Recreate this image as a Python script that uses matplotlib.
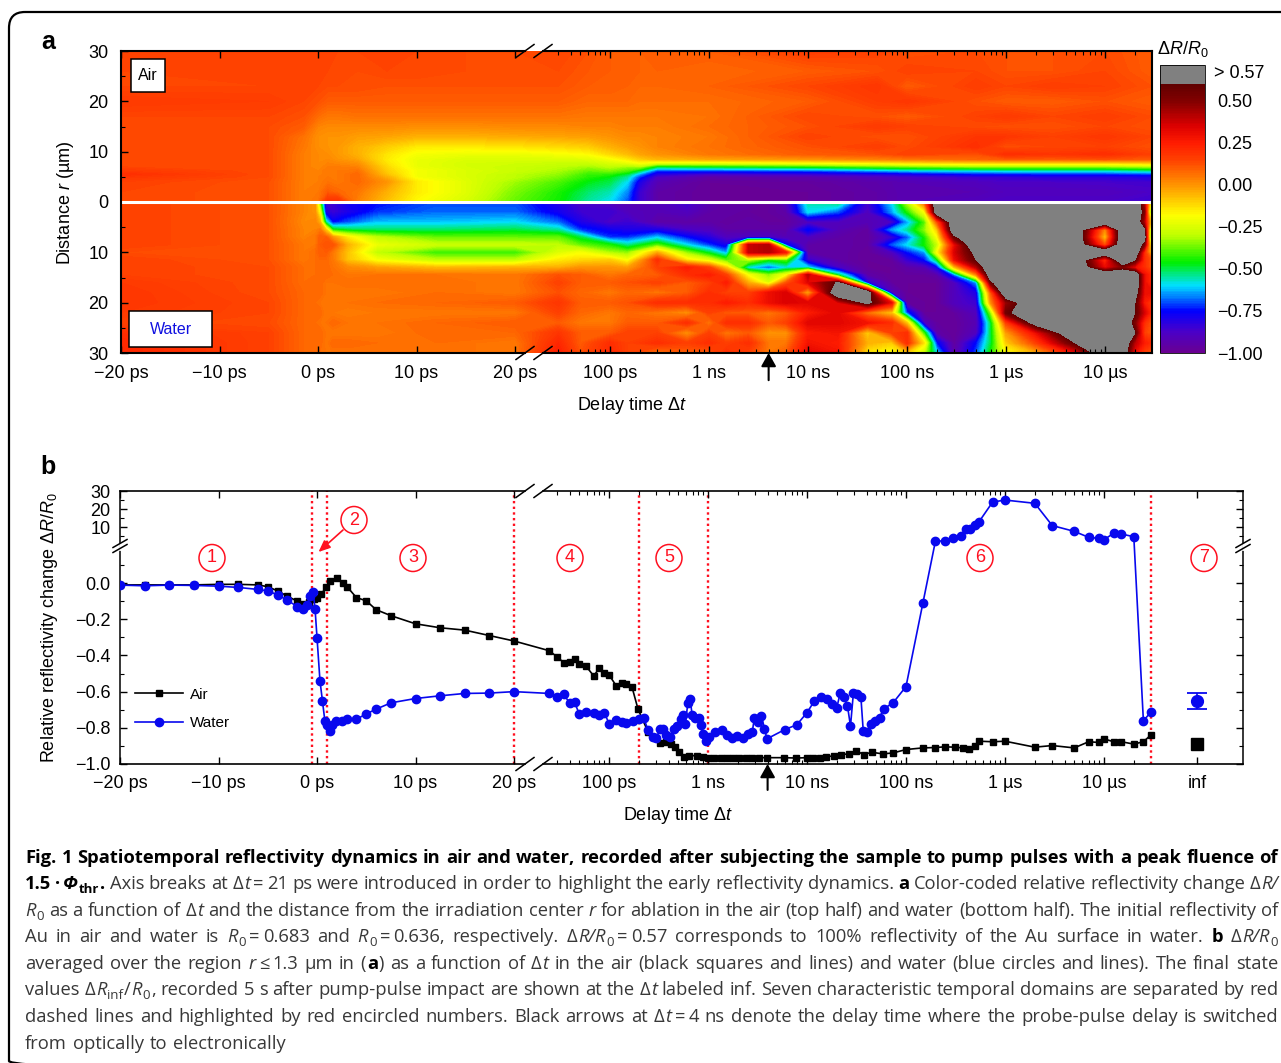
import re
import numpy as np
import matplotlib
matplotlib.use("Agg")
import matplotlib.pyplot as plt
from matplotlib.colors import LinearSegmentedColormap
from matplotlib.lines import Line2D
from matplotlib.patches import Ellipse, FancyBboxPatch, Rectangle
from matplotlib.transforms import Affine2D

plt.rcParams['font.family'] = ['Liberation Sans', 'DejaVu Sans']
plt.rcParams['mathtext.fontset'] = 'custom'
plt.rcParams['mathtext.rm'] = 'Liberation Sans'
plt.rcParams['mathtext.it'] = 'Liberation Sans:italic'
plt.rcParams['mathtext.bf'] = 'Liberation Sans:bold'

W, H = 1281, 1063

# ---- panel a, values of dR/R0, one list per delay time
air_r = [0, 2, 4, 5, 5.5, 6.2, 7, 7.8, 8.5, 9.5, 11, 13, 15, 17, 20, 23, 26, 30]
air_t = [-20, -5, -1.5, 0, 1, 2, 4, 7, 10, 15, 20, 30, 60, 100, 150, 200, 300, 1e3, 1e4, 5e4, 1e5, 5e5, 1e6, 3e6, 1e7, 2.98e7]
air_z = [
    [.14, .14, .15, .18, .2, .17, .14, .14, .14, .14, .14, .14, .14, .14, .17, .14, .14, .14],
    [.12, .12, .12, .13, .13, .13, .13, .13, .13, .13, .13, .13, .13, .14, .16, .14, .15, .15],
    [.04, .04, .04, .04, .04, .04, .04, .04, .04, .04, .05, .06, .1, .12, .14, .15, .15, .15],
    [.06, .05, .04, .04, .03, .03, .02, .02, .02, .02, .01, .01, .03, .07, .12, .14, .15, .15],
    [.2, .1, .06, .05, .05, .05, .04, .03, .02, .01, .0, .0, .02, .05, .1, .13, .14, .15],
    [.2, .08, .05, .05, .05, .05, .04, .02, .0, -.01, -.01, .0, .02, .05, .1, .13, .14, .14],
    [.03, .05, .08, .08, .08, .06, .03, .0, -.03, -.05, -.05, -.02, .02, .06, .1, .13, .13, .14],
    [-.08, -.05, .0, -.05, -.08, -.1, -.12, -.14, -.15, -.14, -.1, -.03, .02, .06, .1, .12, .14, .15],
    [-.18, -.15, -.15, -.2, -.2, -.2, -.22, -.22, -.22, -.2, -.15, -.05, .01, .06, .1, .12, .14, .14],
    [-.26, -.24, -.24, -.25, -.25, -.25, -.26, -.26, -.25, -.22, -.15, -.05, .01, .06, .1, .12, .13, .13],
    [-.38, -.36, -.33, -.3, -.3, -.28, -.28, -.27, -.25, -.22, -.14, -.04, .02, .06, .1, .12, .13, .13],
    [-.45, -.44, -.4, -.36, -.34, -.32, -.3, -.28, -.25, -.2, -.12, -.03, .02, .06, .1, .12, .13, .14],
    [-.55, -.52, -.47, -.43, -.42, -.38, -.33, -.28, -.24, -.18, -.1, -.02, .03, .05, .08, .1, .11, .12],
    [-.6, -.56, -.5, -.47, -.43, -.36, -.3, -.25, -.2, -.12, -.05, .0, .03, .05, .08, .1, .1, .1],
    [-.7, -.66, -.6, -.55, -.5, -.4, -.33, -.22, -.15, -.07, -.02, .02, .04, .05, .08, .09, .1, .1],
    [-.85, -.85, -.8, -.72, -.65, -.5, -.32, -.18, -.1, -.03, .0, .02, .04, .05, .07, .08, .09, .09],
    [-.95, -.95, -.92, -.88, -.82, -.72, -.5, -.22, -.06, .0, .03, .03, .04, .05, .07, .08, .09, .1],
    [-.98, -.98, -.98, -.95, -.88, -.72, -.48, -.22, -.03, .05, .06, .05, .07, .06, .07, .09, .08, .1],
    [-.98, -.98, -.97, -.93, -.85, -.7, -.45, -.18, .0, .1, .12, .15, .12, .14, .1, .14, .1, .16],
    [-.95, -.95, -.94, -.9, -.82, -.65, -.4, -.15, .03, .12, .16, .12, .17, .12, .16, .18, .12, .15],
    [-.92, -.92, -.92, -.88, -.8, -.62, -.38, -.12, .05, .15, .13, .12, .15, .1, .18, .1, .15, .12],
    [-.9, -.92, -.9, -.85, -.75, -.6, -.35, -.1, .08, .12, .2, .18, .13, .15, .12, .16, .14, .13],
    [-.88, -.9, -.88, -.84, -.75, -.58, -.35, -.1, .1, .2, .12, .18, .12, .17, .1, .14, .12, .12],
    [-.88, -.9, -.88, -.82, -.74, -.58, -.35, -.1, .1, .18, .14, .15, .12, .14, .1, .16, .12, .12],
    [-.88, -.9, -.87, -.82, -.74, -.58, -.35, -.1, .12, .2, .15, .18, .14, .16, .12, .15, .14, .13],
    [-.85, -.88, -.86, -.8, -.72, -.55, -.32, -.08, .1, .15, .12, .14, .12, .13, .1, .12, .1, .1],
]

water_r = [0, 2, 4, 5.5, 7, 8.5, 10, 11.5, 13, 14.5, 16, 18, 20, 22, 24, 26, 28, 30]
water_t = [-20, -5, -1.5, -0.3, 0.2, 0.8, 1.5, 3, 6, 12, 20, 30, 50, 100, 150, 300, 600, 1e3, 1.5e3, 2.5e3, 4e3, 6e3,
           1e4, 2e4, 4e4, 7e4, 1e5, 1.5e5, 2e5, 3e5, 5e5, 7e5, 1e6, 2e6, 5e6, 1e7, 1.5e7, 2e7, 2.5e7, 2.98e7]
water_z = [
    [.15, .15, .15, .15, .15, .15, .13, .15, .15, .15, .17, .18, .18, .17, .15, .2, .22, .22],
    [.12, .12, .12, .12, .12, .12, .12, .12, .13, .13, .13, .13, .14, .14, .13, .15, .15, .15],
    [.03, .03, .02, .03, .03, .05, .05, .05, .07, .07, .07, .08, .08, .08, .08, .08, .08, .08],
    [.0, .0, .03, .03, .05, .05, .07, .07, .07, .07, .08, .08, .07, .08, .07, .08, .08, .08],
    [-.4, -.2, -.05, .05, .1, .1, .1, .08, .08, .08, .08, .08, .06, .08, .06, .08, .08, .07],
    [-.85, -.8, -.55, -.1, .1, .12, .1, .08, .08, .08, .06, .06, .06, .05, .06, .06, .05, .06],
    [-.85, -.85, -.75, -.45, .0, .12, .05, .05, .06, .07, .06, .05, .06, .05, .08, .05, .08, .06],
    [-.78, -.8, -.7, -.5, -.15, -.05, -.08, -.08, .02, .05, .07, .05, .06, .04, .06, .05, .08, .06],
    [-.75, -.72, -.62, -.52, -.3, -.22, -.3, -.2, -.02, .06, .07, .05, .07, .05, .06, .05, .07, .07],
    [-.7, -.68, -.62, -.52, -.38, -.28, -.42, -.3, -.07, .06, .07, .07, .08, .05, .08, .08, .07, .07],
    [-.7, -.68, -.6, -.5, -.38, -.28, -.42, -.3, -.05, .05, .05, .05, .1, .05, .1, .08, .05, .05],
    [-.8, -.78, -.68, -.55, -.38, -.3, -.25, -.15, -.05, .12, .15, .12, .18, .15, .1, .18, .22, .25],
    [-.87, -.85, -.8, -.72, -.5, -.38, -.2, -.12, .0, .1, .1, .08, .1, .08, .05, .1, .1, .12],
    [-.9, -.85, -.88, -.78, -.72, -.45, -.32, -.1, .0, .05, .1, .05, .1, .05, .05, .1, .2, .22],
    [-.92, -.9, -.85, -.8, -.72, -.55, -.35, -.2, -.02, .08, .12, .08, .12, .08, .1, .15, .15, .15],
    [-.9, -.92, -.95, -.8, -.62, -.4, -.05, .2, .15, .1, .15, .05, .2, .05, .1, .15, .2, .05],
    [-.85, -.9, -.95, -.88, -.75, -.6, -.35, -.15, .25, .2, .1, .1, .2, .0, .2, .0, .15, .1],
    [-.92, -.95, -.95, -.9, -.82, -.72, -.5, -.25, .15, .25, .15, .2, .2, .15, .05, .15, .2, .1],
    [-.95, -.95, -.97, -.95, -.9, -.8, -.65, -.4, -.1, .15, .25, .15, .25, .1, .2, .05, .15, .2],
    [-.95, -.97, -.95, -.95, -.88, .38, .38, -.3, -.6, -.2, -.05, .15, .2, .1, .2, .1, .2, .15],
    [-.98, -.97, -.97, -.95, -.88, .42, .42, -.45, -.7, -.35, -.25, .3, .3, .05, .1, .0, .05, .05],
    [-.9, -.95, -.97, -.95, -.92, -.75, .25, -.4, -.6, -.2, .1, .35, .35, .1, .15, .0, .05, .1],
    [-.55, -.6, -.9, -.75, -.9, -.95, -.95, -.85, -.6, .4, .33, -.05, .33, .25, .33, .25, .28, .33],
    [-.5, -.7, -.9, -.92, -.95, -.95, -.95, -.95, -.88, -.5, .62, .8, .33, .33, .33, .28, .25, .28],
    [-.85, -.9, -.92, -.97, -.97, -.97, -.98, -.98, -.98, -.95, -.82, .78, .65, .05, .28, -.1, -.05, -.15],
    [-.6, -.65, -.88, -.65, -.85, -.7, -.9, -.97, -.98, -.98, -.97, -.9, .3, -.1, .2, .15, -.1, -.2],
    [-.3, -.45, -.65, -.55, -.7, -.6, -.75, -.85, -.95, -.97, -.98, -.98, -.97, -.72, -.1, .2, .2, -.1],
    [.1, -.2, -.4, -.35, -.45, -.45, -.65, -.75, -.92, -.97, -.98, -.98, -.98, -.98, -.9, -.45, -.15, -.3],
    [.8, .75, .1, -.1, -.2, -.3, -.2, -.5, -.8, -.95, -.98, -.98, -.98, -.98, -.97, -.95, -.75, -.6],
    [.8, .8, .8, .8, .55, .3, .35, .3, -.1, -.7, -.9, -.9, -.9, -.97, -.98, -.98, -.97, -.95],
    [.8, .8, .8, .8, .8, .8, .65, .6, .4, .0, -.65, -.8, -.85, -.9, -.92, -.9, -.75, -.7],
    [.8, .8, .8, .8, .8, .8, .8, .8, .8, .75, .55, .1, .0, -.35, -.5, -.5, -.5, -.45],
    [.8, .8, .8, .8, .8, .8, .8, .8, .8, .8, .8, .8, .45, .55, .15, -.02, -.1, -.2],
    [.8, .8, .8, .8, .8, .8, .8, .8, .8, .8, .8, .8, .8, .8, .7, .3, .15, -.05],
    [.8, .8, .8, .8, .8, .8, .8, .8, .8, .8, .8, .8, .8, .8, .8, .8, .6, .3],
    [.8, .8, .8, .0, -.1, .1, .8, .2, .3, .8, .8, .8, .8, .8, .8, .8, .8, .8],
    [.8, .8, .8, .8, .8, .8, .8, .8, .5, .8, .8, .8, .8, .8, .8, .8, .8, .75],
    [.8, .8, .8, .8, .8, .8, .8, .6, .3, .8, .8, .7, .6, .6, .5, .6, .4, .3],
    [.4, .5, .4, .6, .7, .5, .2, .2, .2, .3, .3, .3, .25, .35, .2, .15, .25, .15],
    [-.3, -.55, -.2, -.5, -.6, -.3, -.1, .1, .1, .2, .2, .3, .15, .2, .1, .1, .2, .1],
]

# colour bar nodes
cmap_vals = [-1.0, -.875, -.75, -.6, -.46, -.3, -.18, 0.0, .15, .25, .35, .5, .6]
cmap_cols = ['#6a0090', '#4a00c8', '#0000ff', '#00e0ff', '#00f000', '#c0ff00', '#ffff00', '#ff9400',
             '#ff4000', '#ff1c00', '#dc0000', '#820000', '#600000']
cbar_ticks = [-1, -.75, -.5, -.25, 0, .25, .5]
cbar_labels = ['\u22121.00', '\u22120.75', '\u22120.50', '\u22120.25', '0.00', '0.25', '0.50']

# ---- panel b, curves
air_x = [-20, -17.5, -15, -12.5, -10, -8, -6, -5, -4, -3, -2, -1.4, -.8, -.3, 0, .45, .9, 1.35, 2.07, 2.6, 3.05, 4, 5, 6, 7.5,
         10, 12.5, 15, 17.5, 20, 25, 30, 35, 40, 45, 50, 59, 70, 80, 90, 100, 118, 134, 150, 171, 196, 248, 280, 324, 375, 422,
         466, 513, 566, 643, 767, 880, 1e3, 1160, 1340, 1550, 1800, 2080, 2400, 2800, 3240, 3940, 5800, 7800, 1e4, 11600, 13400,
         15500, 18900, 22000, 26600, 31000, 37500, 45000, 58000, 74000, 1e5, 1.48e5, 1.98e5, 2.48e5, 3.1e5, 3.75e5, 4.37e5,
         5.03e5, 5.46e5, 7.5e5, 1e6, 2e6, 3e6, 5e6, 7e6, 8.9e6, 1e7, 1.25e7, 1.5e7, 2e7, 2.5e7, 3e7]
air_y = [-.01, -.01, -.01, -.01, -.007, -.007, -.01, -.02, -.043, -.073, -.1, -.117, -.105, -.09, -.08, -.06, -.024, .013, .03,
         -.002, -.02, -.08, -.098, -.147, -.18, -.225, -.247, -.26, -.29, -.32, -.374, -.409, -.44, -.437, -.42, -.448, -.461,
         -.513, -.47, -.498, -.507, -.567, -.55, -.558, -.576, -.695, -.823, -.851, -.883, -.879, -.892, -.907, -.931, -.959,
         -.954, -.954, -.959, -.966, -.967, -.967, -.968, -.968, -.968, -.968, -.967, -.965, -.965, -.965, -.967, -.965, -.965,
         -.965, -.961, -.954, -.948, -.944, -.926, -.948, -.935, -.944, -.939, -.92, -.911, -.909, -.905, -.907, -.911, -.916,
         -.898, -.874, -.877, -.874, -.907, -.898, -.911, -.877, -.881, -.861, -.877, -.877, -.89, -.877, -.838]
water_x = [-20, -17.5, -15, -12.5, -10, -8, -6, -5, -4, -3, -2, -1.4, -1, -.7, -.4, -.2, 0, .3, .55, .8, 1, 1.27, 1.5, 1.9, 2.5,
           3, 4, 5, 6, 7.5, 10, 12.5, 15, 17.5, 20, 25, 30, 35, 40, 45, 50, 59, 70, 80, 90, 100, 118, 134, 150, 175, 200, 225, 248,
           280, 300, 330, 350, 380, 414, 457, 485, 530, 555, 590, 625, 660, 690, 745, 805, 840, 890, 950, 1020, 1180, 1370, 1550,
           1760, 1980, 2250, 2540, 2800, 2940, 3180, 3470, 3720, 3940, 5950, 7900, 1e4, 11900, 13800, 15800, 18000, 19900, 21700,
           23500, 25600, 27500, 29400, 31800, 35000, 37000, 40000, 44700, 49000, 54000, 59500, 74000, 1e5, 1.48e5, 1.98e5, 2.45e5,
           3e5, 3.6e5, 4e5, 4.4e5, 5e5, 5.45e5, 7.5e5, 1e6, 2e6, 3e6, 5e6, 7e6, 8.9e6, 1e7, 1.25e7, 1.5e7, 2e7, 2.5e7, 3e7]
water_y = [-.011, -.015, -.011, -.013, -.017, -.024, -.035, -.043, -.065, -.095, -.13, -.141, -.123, -.074, -.048, -.141, -.303,
           -.539, -.65, -.762, -.786, -.818, -.786, -.762, -.762, -.753, -.753, -.723, -.697, -.662, -.638, -.623, -.61, -.608, -.6,
           -.61, -.628, -.615, -.664, -.66, -.723, -.714, -.717, -.73, -.717, -.777, -.758, -.768, -.771, -.76, -.753, -.747, -.814,
           -.851, -.855, -.805, -.805, -.842, -.851, -.805, -.792, -.749, -.727, -.781, -.665, -.638, -.727, -.743, -.745, -.786,
           -.836, -.874, -.851, -.823, -.81, -.842, -.855, -.846, -.855, -.836, -.823, -.745, -.768, -.736, -.805, -.861, -.81, -.783,
           -.716, -.651, -.632, -.643, -.671, -.693, -.606, -.632, -.677, -.79, -.61, -.615, -.628, -.818, -.823, -.777, -.762, -.743,
           -.695, -.662, -.572, -.112, 2.15, 2.5, 3.8, 5.1, 8.8, 8.8, 11.4, 12.9, 23.9, 25, 23.2, 10.9, 7.7, 4.4, 3.8, 3.1, 6.6, 6.2,
           4.75, -.762, -.71]
inf_t = 8.7e7
air_inf = -.888
water_inf = -.652
water_inf_err = .043
domain_t = [-.47, 1.05, 20, 200, 1000, 3e7]
domain_px = [(212, 558), (354, 520), (413, 558), (570, 558), (669, 558), (980, 558), (1204, 558)]
domain_names = ['1', '2', '3', '4', '5', '6', '7']

lin_ticks = [-20, -10, 0, 10, 20]
lin_labels = ['\u221220 ps', '\u221210 ps', '0 ps', '10 ps', '20 ps']
log_ticks = [1e2, 1e3, 1e4, 1e5, 1e6, 1e7]
log_labels = ['100 ps', '1 ns', '10 ns', '100 ns', '1 \u00b5s', '10 \u00b5s']
minor_a = [m * 10.0**e for e in range(1, 8) for m in range(2, 10) if 25 < m * 10.0**e < 2.98e7 and not (e == 1 and m < 3)]

caption = [
    "{b:Fig. 1 Spatiotemporal reflectivity dynamics in air and water, recorded after subjecting the sample to pump pulses with a peak fluence of}",
    "{b:1.5\u2009\u00b7\u2009}{bi:\u03a6}{bs:thr}{b:.} Axis breaks at \u0394{i:t}\u2009=\u200921 ps were introduced in order to highlight the early reflectivity dynamics. {b:a} Color-coded relative reflectivity change \u0394{i:R/}",
    "{i:R}{s:0} as a function of \u0394{i:t} and the distance from the irradiation center {i:r} for ablation in the air (top half) and water (bottom half). The initial reflectivity of",
    "Au in air and water is {i:R}{s:0}\u2009=\u20090.683 and {i:R}{s:0}\u2009=\u20090.636, respectively. \u0394{i:R/R}{s:0}\u2009=\u20090.57 corresponds to 100% reflectivity of the Au surface in water. {b:b} \u0394{i:R/R}{s:0}",
    "averaged over the region {i:r}\u2009\u2264\u20091.3 \u00b5m in ({b:a}) as a function of \u0394{i:t} in the air (black squares and lines) and water (blue circles and lines). The final state",
    "values \u0394{i:R}{s:inf}/{i:R}{s:0}, recorded 5 s after pump-pulse impact are shown at the \u0394{i:t} labeled inf. Seven characteristic temporal domains are separated by red",
    "dashed lines and highlighted by red encircled numbers. Black arrows at \u0394{i:t}\u2009=\u20094 ns denote the delay time where the probe-pulse delay is switched",
    "from optically to electronically",
]
caption_base = [863, 889, 916, 942, 969, 995, 1022, 1049]


def to_u(t):
    # axis position: linear up to 20 ps, then log decades after the break
    t = np.asarray(t, dtype=float)
    return np.where(t <= 20, t * 9.85, 292 + 99 * np.log10(np.maximum(t, 20) / 100))


def to_v(y):
    # panel b y axis: -1..0.209 linear, above the break 0.01 per unit
    y = np.asarray(y, dtype=float)
    return np.where(y <= .209, y, .209 + .01 * y)


fig = plt.figure(figsize=(W / 100, H / 100), dpi=100, facecolor='white')
px = Affine2D().scale(1 / W, -1 / H).translate(0, 1) + fig.transFigure


def px_axes(x0, y0, x1, y1):
    return fig.add_axes([x0 / W, 1 - y1 / H, (x1 - x0) / W, (y1 - y0) / H])


def px_line(xs, ys, **kw):
    fig.add_artist(Line2D(xs, ys, transform=px, clip_on=False, **kw))


def px_text(x, y, s, **kw):
    return fig.text(x / W, 1 - y / H, s, **kw)


def x_break(x0, y_edge, lw):
    # two slashes on a horizontal edge, the edge is left open between them
    for c in (x0 + 9, x0 + 27):
        px_line([c - 9, c + 9], [y_edge + 6.5, y_edge - 6.5], color='k', lw=lw)


fig.add_artist(FancyBboxPatch((9, 12), 1500, 1065, boxstyle='round,pad=0,rounding_size=16', transform=px,
                              fc='none', ec='k', lw=1.6))

cmap = LinearSegmentedColormap.from_list('drr', [((v + 1) / 1.6, c) for v, c in zip(cmap_vals, cmap_cols)], N=512)
cmap.set_over('#808080')
levels = np.linspace(-1, .6, 161)

# ---- a
ax = px_axes(121, 51, 1152, 353)
Ua = to_u(air_t)
Uw = to_u(water_t)
cs = ax.contourf(Ua, air_r, np.array(air_z).T, levels=levels, cmap=cmap, extend='max')
ax.contourf(Uw, -np.array(water_r), np.array(water_z).T, levels=levels, cmap=cmap, extend='max')
ax.axhline(0, color='white', lw=2.2)
ax.set_xlim(to_u(-20), to_u(2.98e7))
ax.set_ylim(-30, 30)
ax.set_xticks(to_u(lin_ticks + log_ticks))
ax.set_xticklabels(lin_labels + log_labels, fontsize=13)
ax.set_xticks(to_u(minor_a), minor=True)
ax.set_yticks([-30, -20, -10, 0, 10, 20, 30])
ax.set_yticklabels(['30', '20', '10', '0', '10', '20', '30'], fontsize=13)
ax.set_yticks(np.arange(-25, 30, 10), minor=True)
ax.tick_params(which='major', direction='in', top=True, length=5, width=1, pad=9)
ax.tick_params(which='minor', direction='in', top=True, length=3, width=.8)
ax.tick_params(axis='y', pad=9)
for s in ('left', 'right'):
    ax.spines[s].set_linewidth(1.5)
ax.spines['top'].set_visible(False)
ax.spines['bottom'].set_visible(False)
for ye in (51, 353):
    px_line([121, 525], [ye, ye], color='k', lw=1.5)
    px_line([543, 1152], [ye, ye], color='k', lw=1.5)
    x_break(516, ye, 1.1)
px_text(632, 406, 'Delay time \u0394$\\mathit{t}$', fontsize=13, ha='center', va='center')
px_text(66, 203, 'Distance $\\mathit{r}$ (\u00b5m)', fontsize=13, rotation=90, ha='center', va='center')
px_text(48, 42, 'a', fontsize=18, fontweight='bold', ha='center', va='center')
for (x0, y0, x1, y1, name, col) in [(131, 59, 165, 92, 'Air', 'k'), (129, 311, 212, 347, 'Water', '#1010e0')]:
    fig.add_artist(Rectangle((x0, y0), x1 - x0, y1 - y0, transform=px, fc='white', ec='k', lw=1.1))
    px_text((x0 + x1) / 2, (y0 + y1) / 2, name, color=col, fontsize=11.5, ha='center', va='center')
ax.annotate('', xy=(to_u(4000), 0), xycoords=ax.get_xaxis_transform(), xytext=(to_u(4000), -.09), textcoords=ax.get_xaxis_transform(),
            annotation_clip=False, arrowprops=dict(arrowstyle='-|>,head_width=.45,head_length=.8', color='k', lw=1.5, shrinkA=0, shrinkB=0))

# colour bar
cax = px_axes(1160, 65, 1205, 353)
cb = fig.colorbar(cs, cax=cax, extend='max', extendrect=True, extendfrac=.071, drawedges=False)
cb.set_ticks(cbar_ticks)
cb.set_ticklabels(cbar_labels, fontsize=13)
cb.minorticks_off()
cb.ax.tick_params(length=0, pad=9)
cb.outline.set_linewidth(.6)
px_text(1214, 74, '> 0.57', fontsize=13, ha='left', va='center')
px_text(1183, 49, '\u0394$\\mathit{R}$/$\\mathit{R}_0$', fontsize=13, ha='center', va='center')

# ---- b
bx = px_axes(120, 491, 1243, 764)
for t in domain_t:
    bx.axvline(to_u(t), color='#ff1020', lw=1.7, ls=(0, (1, 1.4)), zorder=1)
bx.plot(to_u(air_x), to_v(air_y), '-s', color='k', ms=5, lw=1.2, label='Air', zorder=3)
bx.plot(to_u(water_x), to_v(water_y), '-o', color='#0808ee', ms=6, lw=1.2, label='Water', zorder=4)
bx.plot(to_u(inf_t), air_inf, 's', color='k', ms=9, zorder=3)
bx.errorbar(to_u(inf_t), water_inf, yerr=water_inf_err, fmt='o', color='#0808ee', ms=8.5, capsize=7, capthick=1.3, elinewidth=1.2, zorder=4)
bx.set_xlim(to_u(-20), 1123 + to_u(-20))
bx.set_ylim(-1, to_v(30))
bx.set_xticks(list(to_u(lin_ticks + log_ticks)) + [float(to_u(inf_t))])
bx.set_xticklabels(lin_labels + log_labels + ['inf'], fontsize=13)
bx.set_xticks(to_u(minor_a), minor=True)
bx.set_yticks(list(to_v([-1, -.8, -.6, -.4, -.2, 0])) + list(to_v([10, 20, 30])))
bx.set_yticklabels(['\u22121.0', '\u22120.8', '\u22120.6', '\u22120.4', '\u22120.2', '0.0', '10', '20', '30'], fontsize=13)
bx.set_yticks(list(to_v([-.9, -.7, -.5, -.3, -.1, .1])) + list(to_v([5, 15, 25])), minor=True)
bx.tick_params(which='major', direction='in', top=True, right=True, length=5, width=1, pad=8)
bx.tick_params(which='minor', direction='in', top=True, right=True, length=3, width=.8)
bx.tick_params(axis='y', pad=7)
bx.spines['top'].set_visible(False)
bx.spines['bottom'].set_visible(False)
for s in ('left', 'right'):
    bx.spines[s].set_linewidth(1.1)
for ye in (491, 764):
    px_line([120, 525], [ye, ye], color='k', lw=1.2)
    px_line([543, 1243], [ye, ye], color='k', lw=1.2)
    x_break(516, ye, 1.1)
for xe in (120, 1243):
    px_line([xe, xe], [543.5, 548.5], color='white', lw=2, zorder=4)
    for dy in (-2.5, 2.5):
        px_line([xe - 7, xe + 7], [546 + dy + 4, 546 + dy - 4], color='k', lw=1.1, zorder=5)
bx.legend(loc='center left', bbox_to_anchor=(15 / 1123, 55 / 273), frameon=False, fontsize=11, handlelength=3.15,
          labelspacing=.95, handletextpad=.45, borderaxespad=0, borderpad=0)
for (cx, cy), name in zip(domain_px, domain_names):
    fig.add_artist(Ellipse((cx, cy), 26, 27, transform=px, fc='white', ec='#ff1020', lw=1.1, zorder=5))
    px_text(cx, cy, name, color='#ff1020', fontsize=13, ha='center', va='center', zorder=6)
bx.annotate('', xy=(318.5 / W, 1 - 552 / H), xycoords='figure fraction', xytext=(343 / W, 1 - 530 / H), textcoords='figure fraction',
            arrowprops=dict(arrowstyle='-|>,head_width=.3,head_length=.7', color='#ff1020', lw=1.2, shrinkA=0, shrinkB=0))
bx.annotate('', xy=(to_u(4000), 0), xycoords=bx.get_xaxis_transform(), xytext=(to_u(4000), -.095), textcoords=bx.get_xaxis_transform(),
            annotation_clip=False, arrowprops=dict(arrowstyle='-|>,head_width=.45,head_length=.8', color='k', lw=1.5, shrinkA=0, shrinkB=0))
px_text(678, 816, 'Delay time \u0394$\\mathit{t}$', fontsize=13, ha='center', va='center')
px_text(50, 628, 'Relative reflectivity change \u0394$\\mathit{R}$/$\\mathit{R}_0$', fontsize=13, rotation=90, ha='center', va='center')
px_text(48, 467, 'b', fontsize=18, fontweight='bold', ha='center', va='center')

# ---- caption, set word by word so the lines can be justified
renderer = fig.canvas.get_renderer()
cap_font = ['Open Sans', 'DejaVu Sans']
cap_size = 13.2
styles = {'': {'color': '#383838'},
          'b': {'color': 'k', 'fontweight': 'bold'},
          'i': {'color': '#383838', 'fontstyle': 'italic'},
          'bi': {'color': 'k', 'fontweight': 'bold', 'fontstyle': 'italic'},
          's': {'color': '#383838', 'sub': True},
          'bs': {'color': 'k', 'fontweight': 'bold', 'sub': True}}
for i, line in enumerate(caption):
    items = []
    for st, txt, plain in re.findall(r'\{(\w+):([^}]*)\}|([^{]+)', line):
        style = st if st else ''
        for part in re.split(r'( |\u2009)', txt if st else plain):
            if part == ' ':
                items.append('gap')
            elif part == '\u2009':
                items.append('thin')
            elif part:
                kw = dict(styles[style])
                sub = kw.pop('sub', False)
                t = fig.text(0, 0, part, family=cap_font, fontsize=cap_size * (.72 if sub else 1), va='baseline', **kw)
                items.append((t, t.get_window_extent(renderer).width + .8, sub))
    total = sum(it[1] for it in items if isinstance(it, tuple)) + 2.5 * items.count('thin')
    n_gap = items.count('gap')
    gap = 5.0 if i == len(caption) - 1 else (1279 - 25 - total) / n_gap
    x = 25.0
    for it in items:
        if it == 'gap':
            x += gap
        elif it == 'thin':
            x += 2.5
        else:
            it[0].set_position((x / W, 1 - (caption_base[i] + (4 if it[2] else 0)) / H))
            x += it[1]

fig.savefig('out.png', dpi=100)
